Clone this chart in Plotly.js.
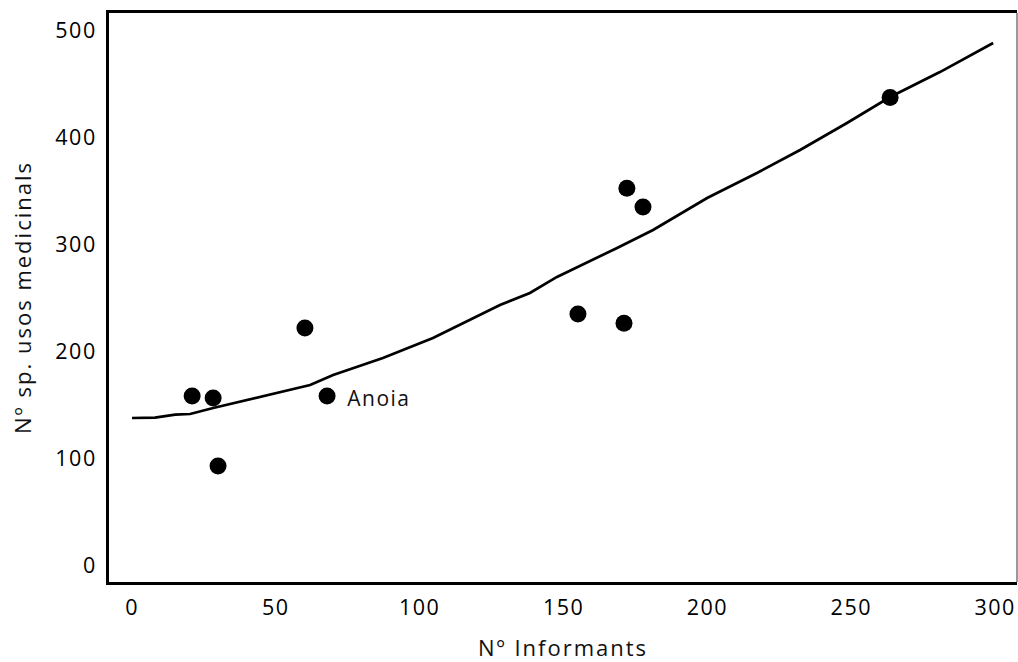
<!DOCTYPE html>
<html><head><meta charset="utf-8">
<script src="https://cdn.plot.ly/plotly-3.0.1.min.js"></script>
<style>html,body{margin:0;padding:0;background:#fff}#c{width:1018px;height:662px}</style>
</head><body><div id="c"></div>
<script>
const informants = [20.9, 28.2, 29.9, 60.1, 67.8, 155, 172, 171, 177.6, 263.5];
const species    = [158, 156, 92.5, 221.5, 158, 234.6, 352, 226, 334.6, 437];
const curveX = [0, 8, 15, 20.2, 28.2, 40, 50, 61.9, 69.9, 87.2, 104.6, 127.9, 138.3, 147.7, 168.6, 181.1, 199.9, 217.2, 232.2, 248.5, 263.5, 280.8, 299.3];
const curveY = [137.4, 137.8, 140.5, 141.1, 146.7, 154, 160.5, 168.2, 177.6, 193.5, 212.1, 243, 254.2, 269.2, 296.3, 313.1, 343, 366.4, 387.9, 413.1, 437.4, 460.7, 487.9];
const labelText = "Anoia";
const labelX = 75.4, labelY = 156;
const xTicks = [0, 50, 100, 150, 200, 250, 300];
const yTicks = [0, 100, 200, 300, 400, 500];

const tickFont = {family: "Open Sans, sans-serif", size: 21.5, color: "#000"};
const data = [
  {x: curveX, y: curveY, mode: "lines", type: "scatter",
   line: {color: "#000", width: 2.7}, hoverinfo: "skip"},
  {x: informants, y: species, mode: "markers", type: "scatter",
   marker: {color: "#000", size: 17}}
];
const layout = {
  width: 1018, height: 662,
  margin: {l: 109, r: 1, t: 13, b: 80},
  paper_bgcolor: "#fff", plot_bgcolor: "#fff",
  showlegend: false,
  xaxis: {range: [-8.0, 307.6], tickvals: xTicks, ticks: "", showgrid: false, zeroline: false,
          showline: true, mirror: true, linecolor: "#000", linewidth: 3,
          tickfont: tickFont, ticklabelstandoff: 4,
          title: {text: "Nº Informants", font: {family: "Open Sans, sans-serif", size: 22, color: "#111"}, standoff: 24}},
  yaxis: {range: [-15.9, 515.9], tickvals: yTicks, ticks: "", showgrid: false, zeroline: false,
          showline: true, linecolor: "#000", linewidth: 3,
          tickfont: tickFont, ticklabelstandoff: 5,
          title: {text: "Nº sp. usos medicinals", font: {family: "Open Sans, sans-serif", size: 22, color: "#111"}, standoff: 23}},
  shapes: [{type: "line", xref: "paper", yref: "paper", x0: 1, x1: 1, y0: 0, y1: 1,
            line: {color: "#777", width: 1.5}}],
  annotations: [{x: labelX, y: labelY, xref: "x", yref: "y", text: labelText, showarrow: false,
                 xanchor: "left", yanchor: "middle", font: {family: "Open Sans, sans-serif", size: 21, color: "#111"}}]
};
Plotly.newPlot("c", data, layout, {displayModeBar: false, staticPlot: true}).then(function(gd){
  gd.querySelectorAll(".xtitle, .ytitle").forEach(function(e){ e.style.letterSpacing = "2px"; });
  gd.querySelectorAll(".xtick text, .ytick text").forEach(function(e){ e.style.letterSpacing = "1.5px"; });
  gd.querySelectorAll(".annotation-text").forEach(function(e){ e.style.letterSpacing = "1.5px"; });
});
</script></body></html>
